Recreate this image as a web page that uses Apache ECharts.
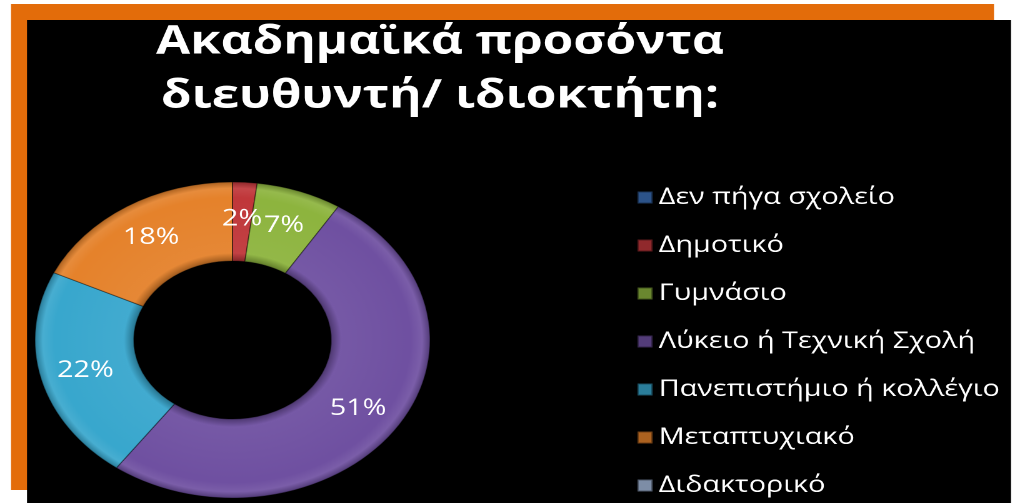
<!DOCTYPE html>
<html>
<head>
<meta charset="utf-8">
<title>Ακαδημαϊκά προσόντα διευθυντή/ ιδιοκτήτη</title>
<script src="https://cdn.jsdelivr.net/npm/echarts@6/dist/echarts.min.js"></script>
<style>
  html, body { margin: 0; padding: 0; background: #ffffff; overflow: hidden; }
  /* The slide is drawn on a narrower canvas and widened, giving the oval ring and wide lettering */
  #chart { width: 810px; height: 503px; transform: scaleX(1.25); transform-origin: 0 0; }
</style>
</head>
<body>
<div id="chart"></div>
<script>
const titleLines = ['Ακαδημαϊκά προσόντα', 'διευθυντή/ ιδιοκτήτη:'];

const categories = [
  'Δεν πήγα σχολείο',
  'Δημοτικό',
  'Γυμνάσιο',
  'Λύκειο ή Τεχνική Σχολή',
  'Πανεπιστήμιο ή κολλέγιο',
  'Μεταπτυχιακό',
  'Διδακτορικό'
];

// Share of respondents, in percent
const shares = [0, 2, 7, 51, 22, 18, 0];

const sliceColors = ['#3b6fb6', '#c0373a', '#8db43e', '#6f50a1', '#38a7cd', '#e5822b', '#a6bcdd'];

const pieCenter = [186, 340];
const outerR = 158;
const innerR = 79;

function shade(hex, f) {
  const n = parseInt(hex.slice(1), 16);
  let r = (n >> 16) & 255, g = (n >> 8) & 255, b = n & 255;
  const adj = v => Math.max(0, Math.min(255, Math.round(f < 0 ? v * (1 + f) : v + (255 - v) * f)));
  return 'rgb(' + adj(r) + ',' + adj(g) + ',' + adj(b) + ')';
}

// Ring fill with a soft bevel toward the inner and outer rims
function ringFill(hex) {
  const k = innerR / outerR;
  return {
    type: 'radial', x: pieCenter[0], y: pieCenter[1], r: outerR, global: true,
    colorStops: [
      { offset: 0, color: shade(hex, -0.3) },
      { offset: k, color: shade(hex, -0.3) },
      { offset: k + 0.05, color: shade(hex, 0.05) },
      { offset: 0.9, color: hex },
      { offset: 0.96, color: shade(hex, 0.08) },
      { offset: 1, color: shade(hex, -0.25) }
    ]
  };
}

const pieData = categories.map((name, i) => ({
  name: name,
  value: shares[i],
  itemStyle: { color: ringFill(sliceColors[i]) },
  label: { show: shares[i] > 0 }
}));

const chart = echarts.init(document.getElementById('chart'), null, { renderer: 'canvas', devicePixelRatio: 2 });

chart.setOption({
  backgroundColor: '#ffffff',
  animation: false,
  color: sliceColors,
  graphic: [
    { type: 'rect', z: -10, silent: true, shape: { x: 8.8, y: 4, width: 786.4, height: 486 }, style: { fill: '#e36c0a' } },
    { type: 'rect', z: -9, silent: true, shape: { x: 21.6, y: 20, width: 787.2, height: 483 }, style: { fill: '#000000' } }
  ],
  title: {
    text: titleLines.join('\n'),
    left: 347,
    top: 10,
    textAlign: 'center',
    textStyle: {
      color: '#ffffff',
      fontFamily: 'Open Sans',
      fontWeight: 'bold',
      fontSize: 39.5,
      lineHeight: 54
    }
  },
  legend: {
    orient: 'vertical',
    left: 509,
    top: 186,
    padding: 0,
    height: 320,
    itemWidth: 12,
    itemHeight: 12,
    itemGap: 25,
    icon: 'rect',
    data: categories,
    textStyle: {
      color: '#ffffff',
      fontFamily: 'Open Sans',
      fontSize: 23,
      padding: [0, 0, 0, 0]
    }
  },
  series: [{
    type: 'pie',
    center: pieCenter,
    radius: [innerR, outerR],
    startAngle: 90,
    clockwise: true,
    avoidLabelOverlap: false,
    itemStyle: { borderColor: 'rgba(0,0,0,0.35)', borderWidth: 1 },
    label: {
      position: 'inside',
      formatter: '{c}%',
      color: '#ffffff',
      fontFamily: 'Open Sans',
      fontSize: 23
    },
    labelLine: { show: false },
    emphasis: { disabled: true },
    data: pieData
  }]
});
</script>
</body>
</html>
